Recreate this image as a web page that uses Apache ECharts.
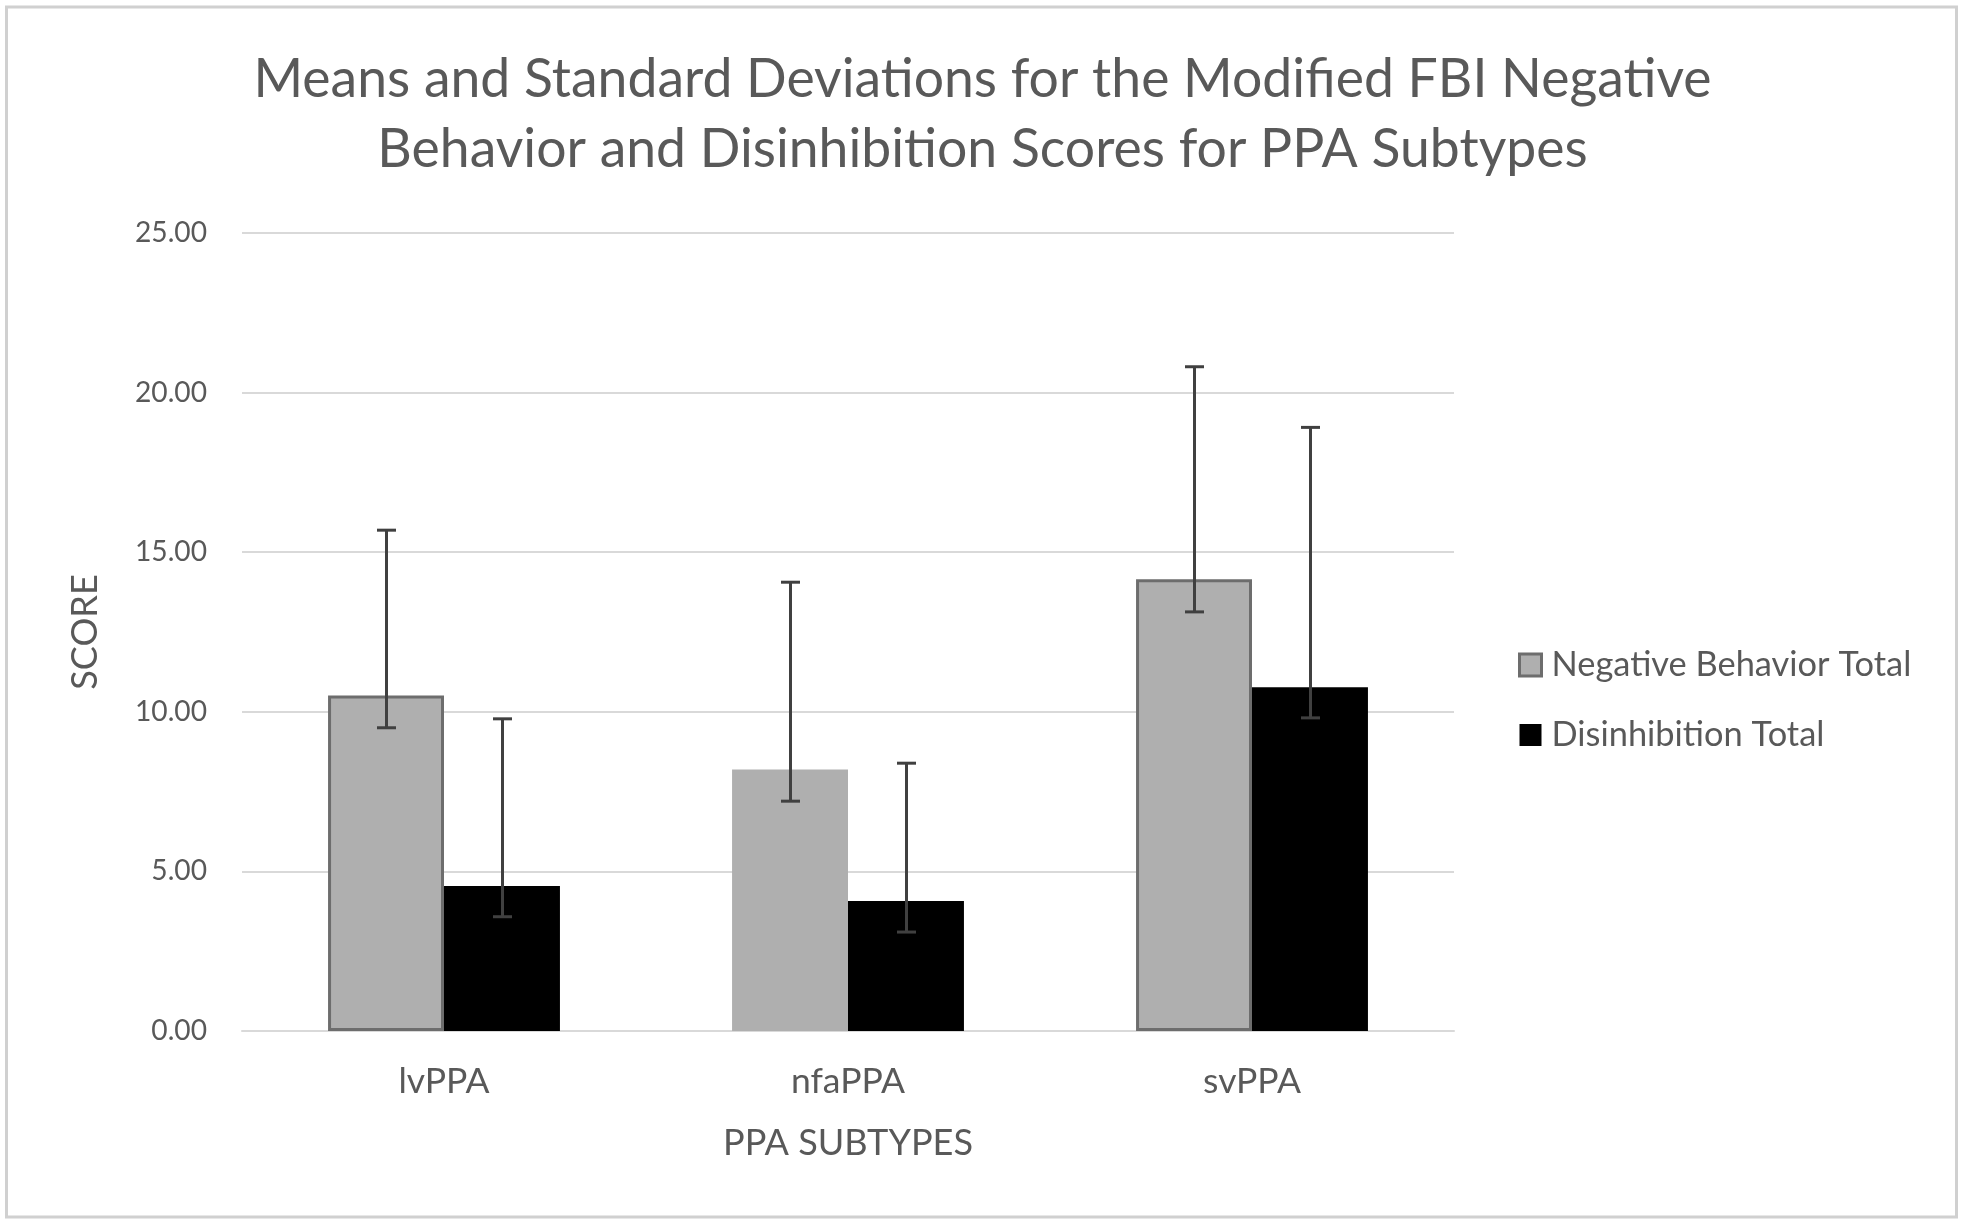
<!DOCTYPE html>
<html>
<head>
<meta charset="utf-8">
<script src="https://cdn.jsdelivr.net/npm/echarts@6/dist/echarts.min.js"></script>
<style>
html,body{margin:0;padding:0;background:#fff;}
#c{width:1965px;height:1226px;}
</style>
</head>
<body>
<div id="c"></div>
<script>
// ---- data ----
const categories = ['lvPPA', 'nfaPPA', 'svPPA'];
const seriesNames = ['Negative Behavior Total', 'Disinhibition Total'];
const negMean  = [10.51, 8.19, 14.15];
const negUpper = [15.69, 14.06, 20.81];
const negLower = [9.50, 7.20, 13.13];
const disMean  = [4.54, 4.07, 10.77];
const disUpper = [9.78, 8.39, 18.91];
const disLower = [3.58, 3.10, 9.81];
const yTicks = [0, 5, 10, 15, 20, 25];
const titleLines = ['Means and Standard Deviations for the Modified FBI Negative',
                    'Behavior and Disinhibition Scores for PPA Subtypes'];
const xAxisName = 'PPA SUBTYPES';
const yAxisName = 'SCORE';

// ---- font fitting ----
const FONT = 'Lato';
const mctx = document.createElement('canvas').getContext('2d');
function fit(text, width) {
  mctx.font = '100px ' + FONT;
  const w = mctx.measureText(text).width;
  return Math.round(100 * width / w * 10) / 10;
}
const titleSize = fit(titleLines[0], 1458);
const tickSize = Math.round(fit('25.00', 68) * 1.06 * 10) / 10;
const catSize = fit('nfaPPA', 114);
const nameSize = fit(xAxisName, 250);
const legendSize = fit(seriesNames[0], 360);

const TXT = '#595959';
const BAR_W = 0.287;

function errData(lower, upper) {
  return categories.map((c, i) => [i, lower[i], upper[i]]);
}
function errSeries(lower, upper, sign) {
  return {
    type: 'custom',
    data: errData(lower, upper),
    z: 10,
    renderItem: function (params, api) {
      const i = api.value(0);
      const band = api.size([1, 0])[0];
      const off = sign * band * BAR_W / 2;
      const lo = api.coord([i, api.value(1)]);
      const hi = api.coord([i, api.value(2)]);
      const x = Math.round(lo[0] + off) + 0.5;
      const cap = 9.5;
      const style = { stroke: '#404040', lineWidth: 3 };
      return {
        type: 'group',
        children: [
          { type: 'line', shape: { x1: x, y1: lo[1], x2: x, y2: hi[1] }, style: style },
          { type: 'line', shape: { x1: x - cap, y1: hi[1], x2: x + cap, y2: hi[1] }, style: style },
          { type: 'line', shape: { x1: x - cap, y1: lo[1], x2: x + cap, y2: lo[1] }, style: style }
        ]
      };
    }
  };
}

const chart = echarts.init(document.getElementById('c'));
chart.setOption({
  animation: false,
  backgroundColor: '#fff',
  graphic: [{
    type: 'rect',
    shape: { x: 6.5, y: 7, width: 1950, height: 1210 },
    style: { fill: 'none', stroke: '#d0d0d0', lineWidth: 3 },
    z: -1
  }],
  title: {
    text: titleLines.join('\n'),
    left: 'center',
    top: 40,
    textStyle: {
      fontFamily: FONT, fontWeight: 'normal', fontSize: titleSize,
      color: TXT, lineHeight: 70
    }
  },
  legend: {
    orient: 'vertical',
    left: 1513,
    top: 643,
    itemWidth: 22,
    itemHeight: 22,
    itemGap: 36,
    data: [
      { name: seriesNames[0], icon: 'rect', itemStyle: { color: '#afafaf', borderColor: '#6d6d6d', borderWidth: 3 } },
      { name: seriesNames[1], icon: 'rect', itemStyle: { color: '#000', borderWidth: 0 } }
    ],
    textStyle: { fontFamily: FONT, fontSize: legendSize, color: TXT, padding: [0, 0, 0, 5] }
  },
  grid: { left: 242, right: 511, top: 233, bottom: 195, containLabel: false },
  xAxis: {
    type: 'category',
    data: categories,
    axisTick: { show: false },
    axisLine: { lineStyle: { color: '#d9d9d9', width: 2 } },
    axisLabel: { fontFamily: FONT, fontSize: catSize, color: TXT, margin: 33 },
    name: xAxisName,
    nameLocation: 'middle',
    nameGap: 94,
    nameTextStyle: { fontFamily: FONT, fontSize: nameSize, color: TXT }
  },
  yAxis: {
    type: 'value',
    min: yTicks[0],
    max: yTicks[yTicks.length - 1],
    interval: yTicks[1] - yTicks[0],
    axisLine: { show: false },
    axisTick: { show: false },
    splitLine: { lineStyle: { color: '#d9d9d9', width: 2 } },
    axisLabel: {
      fontFamily: FONT, fontSize: tickSize, color: TXT, margin: 35,
      formatter: v => v.toFixed(2)
    },
    name: yAxisName,
    nameLocation: 'middle',
    nameRotate: 90,
    nameGap: 139,
    nameTextStyle: { fontFamily: FONT, fontSize: nameSize, color: TXT }
  },
  series: [
    {
      name: seriesNames[0],
      type: 'bar',
      barWidth: (BAR_W * 100) + '%',
      barGap: '0%',
      data: negMean.map((v, i) => i === 1
        ? { value: v, itemStyle: { borderWidth: 0 } }
        : v),
      itemStyle: { color: '#afafaf', borderColor: '#6d6d6d', borderWidth: 3 }
    },
    {
      name: seriesNames[1],
      type: 'bar',
      barWidth: (BAR_W * 100) + '%',
      barGap: '0%',
      data: disMean,
      itemStyle: { color: '#000' }
    },
    Object.assign({ name: 'negErr' }, errSeries(negLower, negUpper, -1)),
    Object.assign({ name: 'disErr' }, errSeries(disLower, disUpper, 1))
  ]
});
</script>
</body>
</html>
